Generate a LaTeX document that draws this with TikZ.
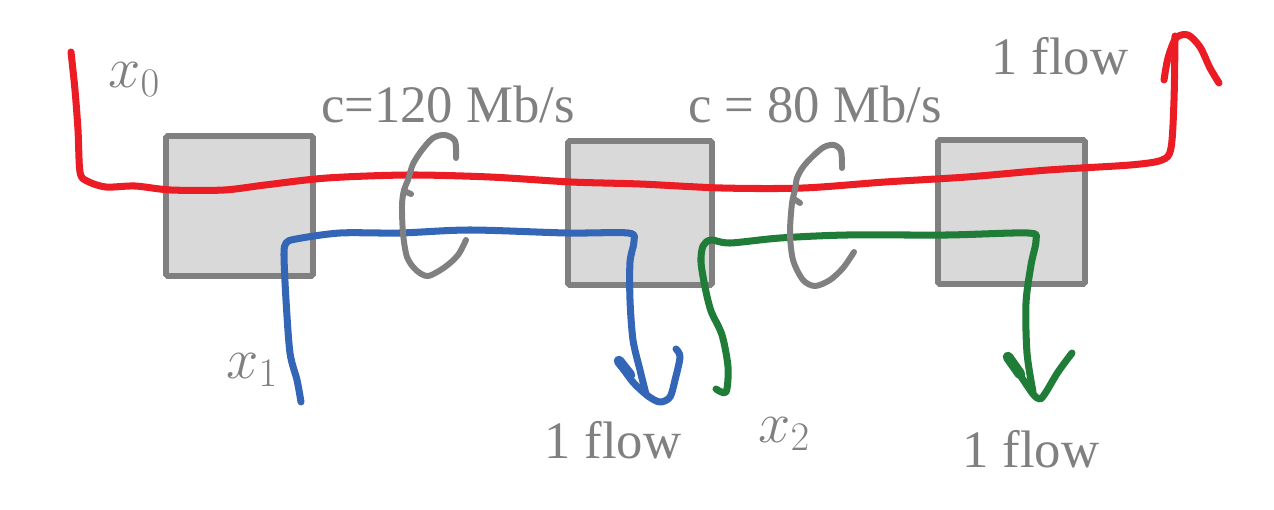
\RequirePackage{fix-cm}
\documentclass[tikz,border=0pt]{standalone}
\usepackage{fontspec}
\setmainfont{Liberation Serif}
\usepackage{tikz}
\usetikzlibrary{positioning}
\definecolor{flowred}{RGB}{236,28,36}
\definecolor{flowblue}{RGB}{52,102,184}
\definecolor{flowgreen}{RGB}{31,125,56}
\definecolor{boxgray}{RGB}{128,128,128}
\definecolor{boxfill}{RGB}{217,217,217}
\tikzstyle{switch_box}=[draw=boxgray, fill=boxfill, line width=3.3pt, rounded corners=1pt, inner sep=0pt]
\tikzstyle{lbl}=[text=boxgray, inner sep=0pt, font=\fontsize{30}{36}\selectfont]
\tikzstyle{var_lbl}=[text=boxgray, inner sep=0pt, font=\fontsize{33}{40}\selectfont]
\tikzstyle{pen}=[line width=4pt, line cap=round, line join=round]
\tikzstyle{loop_pen}=[draw=boxgray, line width=3.4pt, line cap=round, line join=round]

\begin{document}
\begin{tikzpicture}[x=0.02cm, y=-0.02cm]
        \useasboundingbox (0,0) rectangle (1274,510);
        \node [switch_box, minimum width=2.94cm, minimum height=2.80cm] (0) at (239.5,206) {};
        \node [switch_box, minimum width=2.88cm, minimum height=2.88cm] (1) at (640,213) {};
        \node [switch_box, minimum width=2.94cm, minimum height=2.88cm] (2) at (1011.5,212) {};
        \node [var_lbl, anchor=base west] (3) at (108,88) {$x_0$};
        \node [lbl, anchor=base] (4) at (448,123) {c=120 Mb/s};
        \node [lbl, anchor=base] (5) at (815,123) {c = 80 Mb/s};
        \node [lbl, anchor=base] (6) at (1060,75) {1 flow};
        \node [var_lbl, anchor=base west] (7) at (226,378) {$x_1$};
        \node [lbl, anchor=base] (8) at (613,458) {1 flow};
        \node [var_lbl, anchor=base west] (9) at (758,442) {$x_2$};
        \node [lbl, anchor=base] (10) at (1031,467) {1 flow};
        % flow x0
        \draw[pen, flowred] plot[smooth] coordinates {(71,52) (75,90) (78,130) (80,172) (87,181) (106,187) (135,186) (171,190) (224,190) (265,185) (327,178) (408,175) (490,177) (571,182) (640,184) (722,188) (803,188) (885,182) (967,177) (1048,170) (1130,165) (1162,160) (1171,148) (1174,100) (1175,36)};
        \draw[pen, flowred] plot[smooth] coordinates {(1164,80) (1168,58) (1176,38) (1188,35) (1200,47) (1210,68) (1219,83)};
        % flow x1
        \draw[pen, flowblue] plot[smooth] coordinates {(301,402) (297,380) (290,353) (286,300) (284,255) (286,243) (296,239) (340,233) (400,233) (470,230) (567,233) (628,233) (634,241) (630,262) (630,300) (633,340) (640,370) (646,394)};
        \draw[pen, flowblue] plot[smooth] coordinates {(618,360) (632,381) (648,396) (660,402) (670,397) (675,380) (680,357) (676,349)};
        \draw[pen, flowblue, line width=6pt] (619,361) -- (630,375);
        % flow x2
        \draw[pen, flowgreen] plot[smooth] coordinates {(716,389) (726,392) (728,367) (722,335) (711,311) (705,287) (701,262) (703,246) (711,240) (730,243) (780,238) (847,235) (947,235) (1028,233) (1036,240) (1031,265) (1026,303) (1027,353) (1033,392)};
        \draw[pen, flowgreen] plot[smooth] coordinates {(1007,356) (1020,375) (1033,394) (1040,399) (1046,392) (1058,372) (1072,353)};
        \draw[pen, flowgreen, line width=6pt] (1008,357) -- (1020,374);
        % capacity loops
        \draw[loop_pen] plot[smooth] coordinates {(456,158) (455,141) (445,135) (433,138) (422,150) (413,164) (408,180) (404,190) (402,205) (403,233) (407,257) (416,270) (428,276) (445,267) (458,255) (466,240)};
        \draw[loop_pen] (404,191) -- (411,194);
        \draw[loop_pen] plot[smooth] coordinates {(842,168) (841,151) (834,145) (824,147) (813,156) (803,167) (797,178) (795,190) (792,203) (790,233) (793,260) (803,280) (815,286) (830,280) (843,268) (854,252)};
        \draw[loop_pen] (794,199) -- (800,203);
    \end{tikzpicture}
\end{document}
